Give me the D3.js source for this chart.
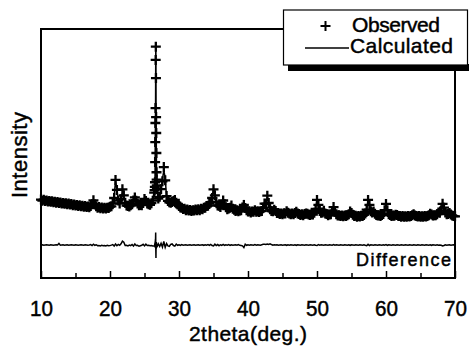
<!DOCTYPE html>
<html lang="en">
<head>
<meta charset="UTF-8">
<title>XRD pattern - observed / calculated / difference</title>
<style>
  body { margin: 0; background: #fff; }
  svg { display: block; font-family: "Liberation Sans", Arial, Helvetica, sans-serif; }
  .frame { fill: none; stroke: #000; stroke-width: 2; }
  .obs { stroke: #000; stroke-width: 2.3; fill: none; }
  .calc, .diff { fill: none; stroke: #000; stroke-width: 1.5; }
  .axis path { display: none; }
  .axis line { stroke: #000; stroke-width: 1.5; }
  text { fill: #000; stroke: #000; stroke-width: 0.45px; }
</style>
</head>
<body>
<svg id="chart" width="469" height="350"></svg>
<script src="https://d3js.org/d3.v7.min.js"></script>
<script>
// 2theta grid: 10 to 70 deg, step 0.2 deg (one value per step)
const thetaStart = 10;
const thetaStep = 0.2;

// observed intensity (arb. units)
const observed = [
  196,190,195,189,191,186,188,184,187,182,
  185,180,183,178,181,176,178,174,177,172,
  175,170,173,167,170,165,168,163,166,161,
  164,159,162,157,160,156,163,171,192,170,
  161,153,157,151,155,150,154,149,153,152,
  159,161,175,204,298,246,191,176,198,249,
  218,179,165,163,160,166,172,191,207,190,
  176,166,168,167,178,199,188,175,171,169,
  177,190,232,672,250,201,210,250,291,365,
  296,214,189,182,179,183,188,194,180,170,
  162,155,153,147,148,141,144,139,142,137,
  140,139,144,140,145,141,148,146,154,153,
  162,164,175,181,204,249,218,184,165,164,
  157,169,191,172,156,146,149,153,165,148,
  143,137,140,135,139,140,155,168,152,141,
  134,135,129,134,133,141,132,135,131,135,
  137,153,175,174,216,178,145,136,135,143,
  136,126,126,121,124,120,125,124,135,128,
  124,119,123,119,126,132,124,121,116,119,
  115,121,123,122,118,116,120,118,128,147,
  194,168,136,128,129,138,124,121,114,118,
  119,135,157,132,120,113,115,110,113,109,
  113,110,114,119,134,126,117,110,112,107,
  111,108,112,111,116,123,144,194,168,135,
  129,134,122,116,113,114,111,116,121,141,
  173,141,120,116,111,113,112,117,116,110,
  111,106,110,107,109,106,110,108,111,114,
  120,113,111,108,110,106,109,107,110,108,
  111,114,122,118,113,114,115,120,129,127,
  140,174,154,129,120,121,126,118,113,110,
  109
];

// observed - calculated
const difference = [
  0,1,-1,0,1,0,-1,1,0,-1,
  0,1,0,8,-1,0,1,-1,0,1,
  -1,0,1,0,-1,1,0,-1,0,1,
  0,-1,1,0,-1,0,2,-3,4,-2,
  1,-4,-3,-5,-2,-4,-3,-5,-2,-4,
  -3,-1,2,-6,5,-4,3,-2,6,20,
  14,-3,-2,-5,-1,-4,2,-6,5,-3,
  -2,-7,-4,-2,3,-5,4,-3,-2,-4,
  -3,-5,-6,25,-12,6,-8,9,-11,18,
  -13,7,-5,-7,3,5,-3,-6,4,-2,
  1,-2,2,-1,0,1,-1,0,1,-1,
  0,1,-1,0,1,-1,0,1,-2,1,
  -1,2,-2,3,-3,-5,4,-3,2,-4,
  1,-2,3,-2,1,-1,2,-2,1,-1,
  0,1,-1,2,-2,-3,-5,-14,4,-2,
  1,-1,1,0,-1,2,-1,1,0,-1,
  1,3,4,2,5,3,6,2,-1,1,
  0,1,-1,0,1,-1,0,1,-2,1,
  -1,1,0,-1,1,-2,1,0,-1,1,
  0,-1,1,0,-1,1,0,-1,1,-2,
  -3,2,-1,1,0,-1,1,0,-1,1,
  0,-1,2,-1,1,0,-1,1,0,-1,
  1,0,-1,1,-2,1,0,-1,1,0,
  -1,1,0,-1,1,-2,-4,3,-3,1,
  0,-1,1,0,-1,1,0,-1,1,-1,
  2,-2,1,0,-1,1,0,-1,1,0,
  -1,1,0,-1,1,0,-1,1,0,-1,
  1,0,-1,1,0,-1,1,0,-1,1,
  0,-1,1,-2,1,0,-1,1,-2,0,
  -2,-5,-3,1,-1,0,1,-1,0,1,
  0
];

// extra points across the sharp reflection near 26.6 deg
const peakTheta = [26.46, 26.50, 26.52, 26.54, 26.56, 26.58, 26.62, 26.64, 26.66, 26.68, 26.70, 26.72, 26.74, 26.76, 26.78];
const peakObserved = [245, 262, 286, 391, 495, 594, 922, 991, 828, 625, 542, 438, 338, 300, 270];
const peakDifference = [-4, 8, -10, 18, -14, 30, 65, -25, -68, 12, -20, 15, -10, 6, -4];

const xTicks = [10, 20, 30, 40, 50, 60, 70];
const xMinorTicks = [15, 25, 35, 45, 55, 65];
const diffOffset = -40; // where the difference curve sits

const points = observed.map((v, i) => ({t: thetaStart + i * thetaStep, obs: v, diff: difference[i]}))
    .concat(peakTheta.map((t, i) => ({t: t, obs: peakObserved[i], diff: peakDifference[i]})))
    .sort((a, b) => a.t - b.t);
points.forEach(p => { p.calc = p.obs - p.diff; });

const svg = d3.select('#chart');
const plotLeft = 41, plotRight = 455, plotTop = 29, plotBottom = 278;

const x = d3.scaleLinear().domain([10, 70]).range([plotLeft, plotRight]);
const y = d3.scaleLinear().domain([-212, 1083]).range([plotBottom, plotTop]);

// frame
svg.append('rect')
    .attr('class', 'frame')
    .attr('x', plotLeft).attr('y', plotTop)
    .attr('width', plotRight - plotLeft).attr('height', plotBottom - plotTop);

// inward ticks on the bottom edge
svg.append('g')
    .attr('class', 'axis')
    .attr('transform', `translate(0,${plotBottom})`)
    .call(d3.axisBottom(x).tickValues(xMinorTicks).tickSizeInner(-5).tickSizeOuter(0).tickFormat(''));

const xAxis = svg.append('g')
    .attr('class', 'axis')
    .attr('transform', `translate(0,${plotBottom})`)
    .call(d3.axisBottom(x).tickValues(xTicks).tickSizeInner(-7).tickSizeOuter(0).tickFormat(d3.format('d')));

xAxis.selectAll('text')
    .attr('y', 38)
    .attr('dy', null)
    .attr('font-size', 22)
    .attr('textLength', 23)
    .attr('lengthAdjust', 'spacingAndGlyphs')
    .attr('font-family', '"Liberation Sans", Arial, sans-serif')
    .attr('fill', '#000');

// difference curve
svg.append('path')
    .datum(points)
    .attr('class', 'diff')
    .attr('d', d3.line().x(d => x(d.t)).y(d => y(diffOffset + d.diff)));

// observed: crosses
svg.append('g')
    .selectAll('path')
    .data(points)
    .join('path')
    .attr('class', 'obs')
    .attr('d', d => {
        const px = x(d.t), py = y(d.obs);
        return `M${px - 5},${py}h10M${px},${py - 5}v10`;
    });

// calculated: line
svg.append('path')
    .datum(points)
    .attr('class', 'calc')
    .attr('d', d3.line().x(d => x(d.t)).y(d => y(d.calc)));

svg.append('text')
    .attr('x', 451).attr('y', 266)
    .attr('text-anchor', 'end')
    .attr('font-size', 18)
    .attr('textLength', 95)
    .text('Difference');

// axis titles
svg.append('text')
    .attr('x', 248).attr('y', 341)
    .attr('text-anchor', 'middle')
    .attr('font-size', 21)
    .attr('textLength', 118)
    .text('2theta(deg.)');

svg.append('text')
    .attr('transform', 'translate(27,155) rotate(-90)')
    .attr('text-anchor', 'middle')
    .attr('font-size', 22)
    .attr('textLength', 86)
    .text('Intensity');

// legend with drop shadow
const legend = svg.append('g');
legend.append('rect')
    .attr('x', 288).attr('y', 64)
    .attr('width', 190).attr('height', 7)
    .attr('fill', '#000');
legend.append('rect')
    .attr('x', 283.5).attr('y', 10)
    .attr('width', 184).attr('height', 55)
    .attr('fill', '#fff')
    .attr('stroke', '#000')
    .attr('stroke-width', 1.2);
legend.append('path')
    .attr('d', 'M320.5,26h10M325.5,21v10')
    .attr('stroke', '#000')
    .attr('stroke-width', 2);
legend.append('line')
    .attr('x1', 305).attr('x2', 349)
    .attr('y1', 48).attr('y2', 48)
    .attr('stroke', '#000')
    .attr('stroke-width', 1.5);
legend.append('text')
    .attr('x', 352).attr('y', 32)
    .attr('font-size', 21)
    .attr('textLength', 88)
    .text('Observed');
legend.append('text')
    .attr('x', 350).attr('y', 53)
    .attr('font-size', 21)
    .attr('textLength', 103)
    .text('Calculated');
</script>
</body>
</html>
